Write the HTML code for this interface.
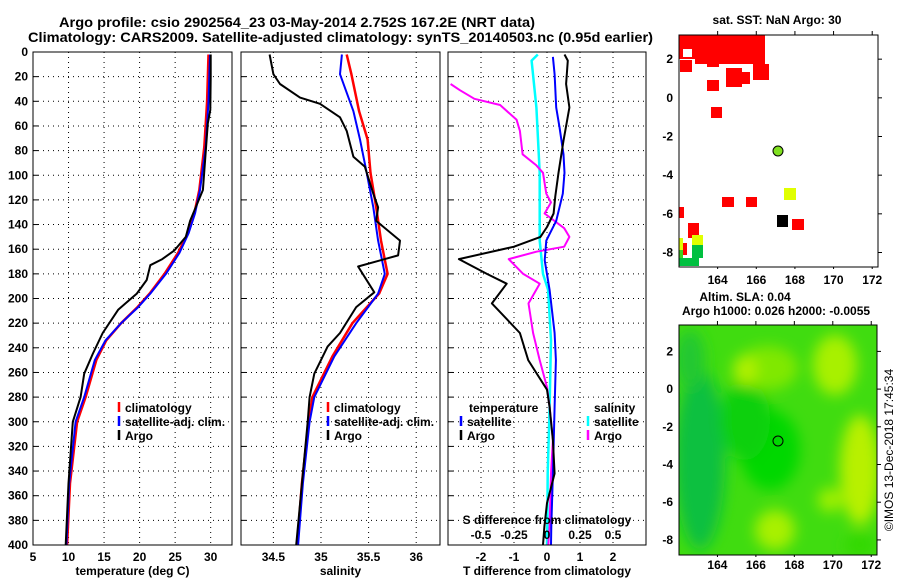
<!DOCTYPE html>
<html><head><meta charset="utf-8"><style>
body{margin:0;background:#fff;}
svg{display:block;font-family:"Liberation Sans",sans-serif;font-weight:bold;}
</style></head><body>
<svg id="c" width="900" height="580" viewBox="0 0 900 580" xmlns="http://www.w3.org/2000/svg">
<defs>
<filter id="bl" x="-50%" y="-50%" width="200%" height="200%"><feGaussianBlur stdDeviation="7"/></filter>
<clipPath id="m2c"><rect x="679" y="325" width="198" height="230"/></clipPath>
</defs>
<text x="59" y="27" font-size="14" textLength="476" lengthAdjust="spacingAndGlyphs">Argo profile: csio 2902564_23 03-May-2014 2.752S 167.2E (NRT data)</text>
<text x="28" y="42" font-size="14" textLength="625" lengthAdjust="spacingAndGlyphs">Climatology: CARS2009. Satellite-adjusted climatology: synTS_20140503.nc (0.95d earlier)</text>
<g id="g"></g>
<!-- SST map -->
<g>
<text x="777" y="24" font-size="12" text-anchor="middle">sat. SST: NaN Argo: 30</text>
<rect x="679" y="35" width="199" height="232" fill="#fff"/>
<g fill="#ff0000">
<rect x="679" y="35" width="86" height="24"/><rect x="695" y="59" width="70" height="5"/>
<rect x="680" y="60" width="12" height="12"/><rect x="707" y="60" width="12" height="7"/><rect x="726" y="60" width="24" height="4"/>
<rect x="707" y="80" width="12" height="11"/><rect x="726" y="68" width="16" height="19"/><rect x="738" y="72" width="12" height="12"/>
<rect x="753" y="64" width="16" height="16"/><rect x="711" y="107" width="11" height="11"/><rect x="722" y="197" width="12" height="10"/>
<rect x="746" y="197" width="11" height="10"/><rect x="792" y="219" width="12" height="11"/><rect x="679" y="207" width="5" height="11"/>
<rect x="688" y="223" width="11" height="15"/><rect x="683" y="243" width="4" height="12"/>
</g>
<rect x="683" y="49" width="9" height="8" fill="#fff"/>
<rect x="784" y="188" width="12" height="12" fill="#e0ff00"/>
<rect x="777" y="215" width="11" height="12" fill="#000"/>
<rect x="679" y="238" width="4" height="12" fill="#e0ff00"/>
<rect x="692" y="235" width="11" height="10" fill="#e0ff00"/>
<rect x="692" y="245" width="11" height="13" fill="#00c040"/>
<rect x="679" y="250" width="4" height="8" fill="#40d020"/>
<rect x="679" y="258" width="20" height="8" fill="#00c040"/>
<circle cx="778" cy="151" r="5" fill="#80e020" stroke="#000" stroke-width="1"/>
<rect x="679" y="35" width="199" height="232" fill="none" stroke="#000"/>
</g>
<!-- SLA map -->
<g>
<text x="745" y="301" font-size="12" text-anchor="middle">Altim. SLA: 0.04</text>
<text x="776" y="315" font-size="12" text-anchor="middle">Argo h1000: 0.026 h2000: -0.0055</text>
<g clip-path="url(#m2c)">
<rect x="679" y="325" width="198" height="230" fill="#40dc10"/>
<g filter="url(#bl)">
<ellipse cx="700" cy="460" rx="25" ry="90" fill="#10c040"/>
<ellipse cx="690" cy="360" rx="15" ry="30" fill="#20c830"/>
<ellipse cx="770" cy="450" rx="30" ry="40" fill="#00d800"/>
<ellipse cx="745" cy="420" rx="25" ry="40" fill="#10d010"/>
<ellipse cx="768" cy="368" rx="30" ry="22" fill="#80e800"/>
<ellipse cx="745" cy="370" rx="12" ry="15" fill="#b0f000"/>
<ellipse cx="835" cy="365" rx="22" ry="30" fill="#a8f000"/>
<ellipse cx="860" cy="470" rx="20" ry="55" fill="#b8f000"/>
<ellipse cx="775" cy="530" rx="20" ry="20" fill="#a8f000"/>
<ellipse cx="830" cy="500" rx="12" ry="12" fill="#a0f000"/>
<ellipse cx="860" cy="545" rx="15" ry="12" fill="#30d800"/>
</g>
</g>
<circle cx="778" cy="441" r="5" fill="none" stroke="#000" stroke-width="1"/>
<rect x="679" y="325" width="198" height="230" fill="none" stroke="#000"/>
<text x="893" y="450" font-size="12" font-weight="normal" text-anchor="middle" transform="rotate(-90 893 450)">©IMOS 13-Dec-2018 17:45:34</text>
</g>
</svg>
<script>
// ---- data ----
const depthTArgo = [2,20,47,58,112,137,150,161,168,173,185,196,209,228,245,261,280,300,350,400];
const tempArgo   = [30.0,30.0,29.95,29.6,28.9,27.1,26.5,24.9,23.2,21.5,21.0,19.6,17.0,14.8,13.4,12.2,11.7,10.6,10.0,9.6];
const depthTClim = [2,40,77,112,131,147,163,180,196,207,220,234,250,280,300,350,400];
const tempClim   = [29.7,29.5,29.1,28.4,27.7,26.8,25.4,23.5,21.4,19.7,17.4,15.3,13.9,12.4,11.2,10.2,9.8];
const tempSat    = [29.9,29.7,29.3,28.5,27.8,26.9,25.6,23.7,21.5,19.8,17.4,15.2,13.7,12.2,11.0,10.1,9.7];
const depthSArgo = [2,18,26,37,42,53,64,85,93,115,126,137,153,165,174,195,207,228,239,261,280,300,400];
const salArgo    = [34.46,34.5,34.57,34.78,34.99,35.2,35.27,35.34,35.46,35.55,35.6,35.58,35.83,35.81,35.39,35.56,35.37,35.2,35.07,34.93,34.88,34.86,34.74];
const depthSClim = [2,18,48,71,98,126,153,180,196,220,247,280,300,350,400];
const salClim    = [35.27,35.32,35.4,35.49,35.52,35.58,35.63,35.7,35.61,35.33,35.12,34.91,34.87,34.8,34.75];
const salSat     = [35.22,35.2,35.34,35.41,35.48,35.55,35.6,35.67,35.6,35.37,35.14,34.93,34.88,34.81,34.76];
const depthD = [2,7,26,45,72,98,117,131,142,150,158,168,180,188,204,228,250,274,288,315,342,366,385,400];
const tDiffArgo = [0.53,0.63,0.58,0.68,0.5,0.35,0.25,0.2,0.0,-0.2,-1.0,-2.67,-1.82,-1.22,-1.67,-0.82,-0.57,0.0,0.08,0.18,0.23,0.0,-0.08,-0.12];
const depthDSat = [4,18,45,61,83,98,115,137,153,169,193,228,250,288,342,385,400];
const tDiffSat  = [0.18,0.23,0.28,0.38,0.5,0.53,0.48,0.28,-0.02,-0.07,0.08,0.23,0.27,0.23,0.18,0.13,0.12];
const depthSDSat = [2,7,45,98,153,180,193,234,288,342,385,400];
const sDiffSat  = [-0.07,-0.117,-0.08,-0.055,-0.055,-0.03,0.008,0.03,0.02,0.005,0.002,0.0];
const depthSDArgo = [26,31,38,43,55,64,83,92,98,115,122,131,143,150,158,162,168,180,188,204,228,250,272,288,315,342,385,400];
const sDiffArgo = [-0.73,-0.66,-0.55,-0.355,-0.23,-0.205,-0.185,-0.08,-0.03,-0.005,0.03,-0.018,0.13,0.17,0.13,-0.08,-0.29,-0.18,-0.055,-0.14,-0.105,-0.055,0,0.02,0.045,0.03,0.02,0.01];
const depthTicks = [0,20,40,60,80,100,120,140,160,180,200,220,240,260,280,300,320,340,360,380,400];
const tempTicks = [5,10,15,20,25,30];
const salTicks = [34.5,35,35.5,36];
const tdTicks = [-2,-1,0,1,2];
const sdTicks = [-0.5,-0.25,0,0.25,0.5];
const sdTickLabels = ['-0.5','-0.25','0','0.25','0.5'];
// ---- layout ----
const NS='http://www.w3.org/2000/svg', G=document.getElementById('g');
const top0=52, bot=545;
function y(d){return top0+(d/400)*(bot-top0);}
function mk(tag,attrs,parent){const e=document.createElementNS(NS,tag);for(const k in attrs)e.setAttribute(k,attrs[k]);(parent||G).appendChild(e);return e;}
function txt(x,yy,s,anchor,size){const t=mk('text',{x:x,y:yy,'font-size':size||12,'text-anchor':anchor||'middle'});t.textContent=s;return t;}
const panels=[
 {name:'temperature',x0:33,x1:232,v0:5,v1:33,ticks:tempTicks,label:'temperature (deg C)'},
 {name:'salinity',x0:241,x1:440,v0:34.16,v1:36.25,ticks:salTicks,label:'salinity'},
 {name:'difference',x0:448,x1:646,v0:-3,v1:3,ticks:tdTicks,label:'T difference from climatology'}
];
function sx(p,v){return p.x0+(v-p.v0)/(p.v1-p.v0)*(p.x1-p.x0);}
panels.forEach((p,i)=>{
 const g=mk('g',{});
 
 
 p.g=g;
 depthTicks.forEach(d=>{
  if(d>0&&d<400){const l=mk('line',{x1:p.x0,x2:p.x1,y1:y(d),y2:y(d),stroke:'#000','stroke-dasharray':'1 4','stroke-width':1},g);
   }
  const tk=mk('line',{x1:p.x0,x2:p.x0+5,y1:y(d),y2:y(d),stroke:'#000'},g);
  
  if(i===0){const t=txt(28,y(d)+4,String(d),'end');}
 });
 p.ticks.forEach(v=>{
  const xx=sx(p,v);
  const l=mk('line',{x1:xx,x2:xx,y1:top0,y2:bot,stroke:'#000','stroke-dasharray':'1 4'},g);
  
  const t=txt(xx,561,String(v));
  
 });
 const xl=txt((p.x0+p.x1)/2,575,p.label);
 
});
function line(p,vals,deps,color,w,name,scale){
 const pts=vals.map((v,k)=>sx(p,v*(scale||1)).toFixed(1)+','+y(deps[k]).toFixed(1)).join(' ');
 const e=mk('polyline',{points:pts,fill:'none',stroke:color,'stroke-width':w,'stroke-linejoin':'round'},p.g);
 
 
}
const [P1,P2,P3]=panels;
line(P1,tempClim,depthTClim,'#ff0000',2.5,'temp-climatology-line');
line(P1,tempSat,depthTClim,'#0000ff',2,'temp-satellite-line');
line(P1,tempArgo,depthTArgo,'#000',2,'temp-argo-line');
line(P2,salClim,depthSClim,'#ff0000',2.5,'sal-climatology-line');
line(P2,salSat,depthSClim,'#0000ff',2,'sal-satellite-line');
line(P2,salArgo,depthSArgo,'#000',2,'sal-argo-line');
line(P3,sDiffSat,depthSDSat,'#00ffff',2.5,'sdiff-satellite-line',4);
line(P3,sDiffArgo,depthSDArgo,'#ff00ff',2,'sdiff-argo-line',4);
line(P3,tDiffSat,depthDSat,'#0000ff',2,'tdiff-satellite-line');
line(P3,tDiffArgo,depthD,'#000',2,'tdiff-argo-line');
// S difference axis labels
sdTicks.forEach((v,k)=>{const t=txt(sx(P3,v*4),539,sdTickLabels[k]);});
const sdt=txt(547,524,'S difference from climatology');

// frames
panels.forEach(p=>{const r=mk('rect',{x:p.x0,y:top0,width:p.x1-p.x0,height:bot-top0,fill:'none',stroke:'#000'},p.g);});
// legends
function leg(x,yy,color,label){
 const g=mk('g',{});
 
 
 mk('line',{x1:x,x2:x,y1:yy-10,y2:yy,stroke:color,'stroke-width':2.5},g);
 const t=txt(x+6,yy,label,'start');g.appendChild(t);
}
leg(119,412,'#ff0000','climatology');leg(119,426,'#0000ff','satellite-adj. clim.');leg(119,440,'#000','Argo');
leg(328,412,'#ff0000','climatology');leg(328,426,'#0000ff','satellite-adj. clim.');leg(328,440,'#000','Argo');
const lt=txt(469,412,'temperature','start');
const ls=txt(594,412,'salinity','start');
leg(461,426,'#0000ff','satellite');leg(461,440,'#000','Argo');
leg(588,426,'#00ffff','satellite');leg(588,440,'#ff00ff','Argo');
// map axes
const lonTicks=[164,166,168,170,172];
const latTicks=[2,0,-2,-4,-6,-8];
function mapAxes(x0,x1,yTop,yBot,lat0,lat1,labelY){
 const lx=v=>679+(v-162)/(172.3-162)*(x1-x0);
 const ly=v=>yTop+(lat0-v)/(lat0-lat1)*(yBot-yTop);
 latTicks.forEach(v=>{const t=txt(673,ly(v)+4,String(v),'end');
  mk('line',{x1:x1-4,x2:x1+4,y1:ly(v),y2:ly(v),stroke:'#000'});});
 lonTicks.forEach(v=>{mk('line',{x1:lx(v),x2:lx(v),y1:yBot-4,y2:yBot+2,stroke:'#000'});mk('line',{x1:lx(v),x2:lx(v),y1:yTop-4,y2:yTop+3,stroke:'#000'});
  const t=txt(lx(v),labelY,String(v));});
}
mapAxes(679,878,35,267,3.25,-8.75,284);
mapAxes(679,877,325,555,3.4,-8.8,569);
</script>
</body></html>
